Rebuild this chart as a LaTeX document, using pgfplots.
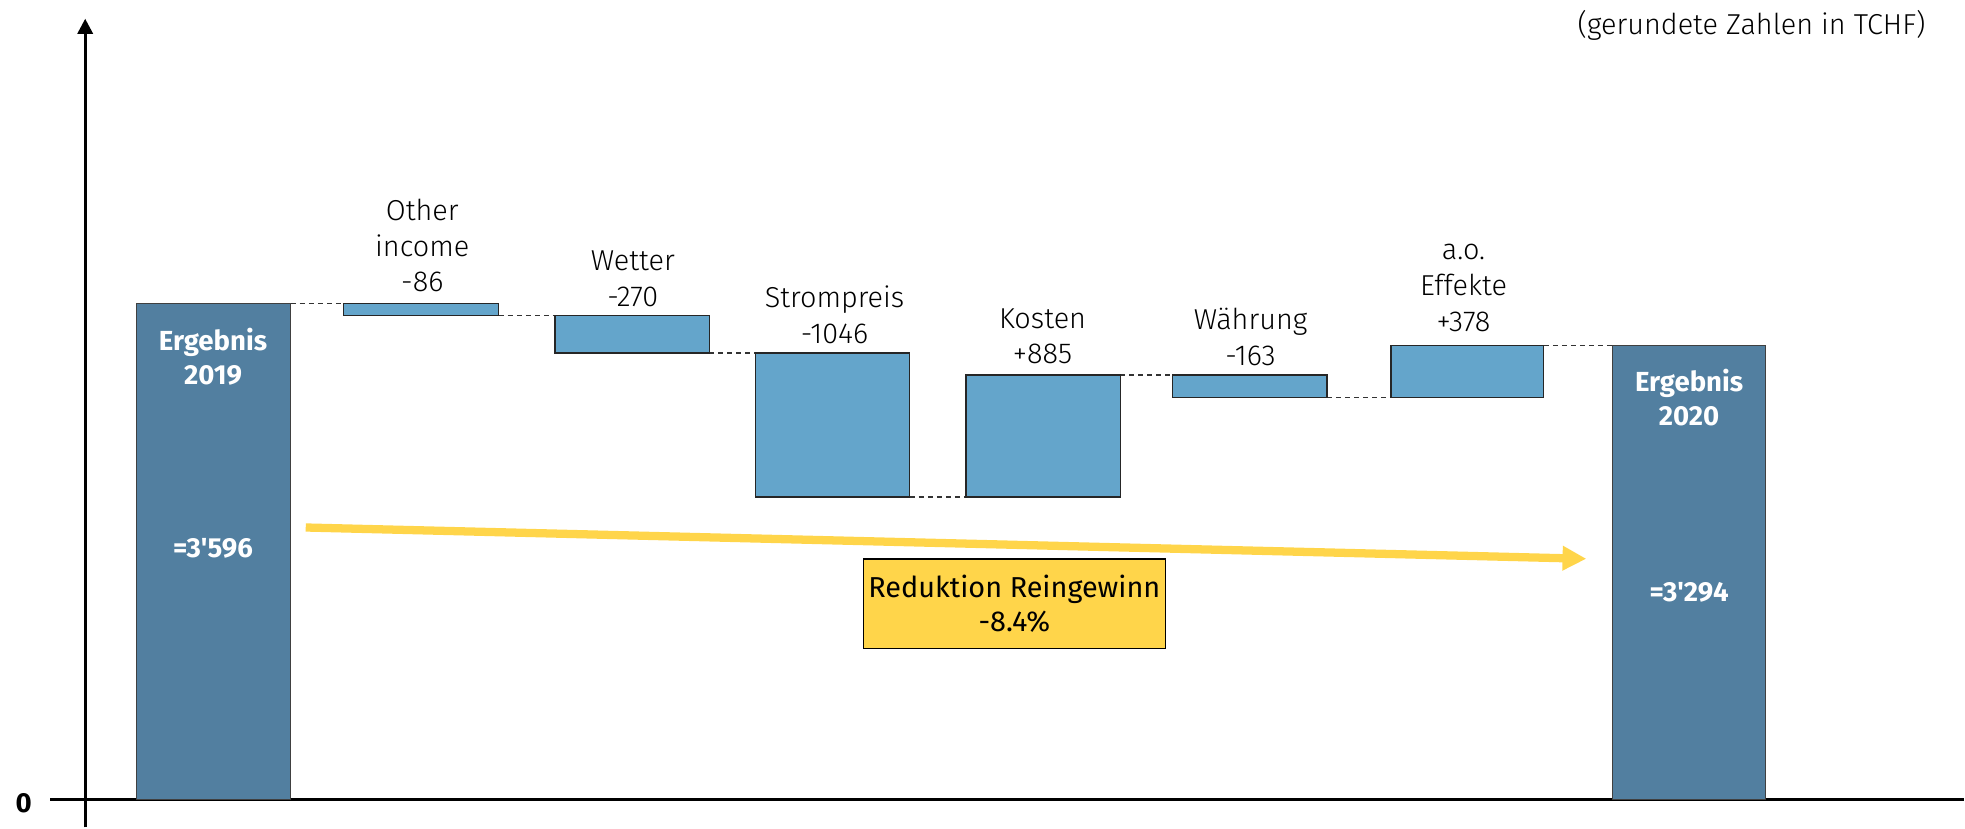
\documentclass[border=0pt]{standalone}
\usepackage{fontspec}
\setmainfont{Fira Sans}[Ligatures=TeXOff]
\newfontfamily\lightfont{Fira Sans Light}[Ligatures=TeXOff]
\usepackage{pgfplots}
\pgfplotsset{compat=1.18}
\usetikzlibrary{arrows.meta}

\definecolor{totalbar}{HTML}{527FA0}
\definecolor{deltabar}{HTML}{64A5CB}
\definecolor{gelb}{HTML}{FFD54A}

\begin{document}
\begin{tikzpicture}
\begin{axis}[
    width=783.5pt, height=330.15pt, scale only axis,
    xmin=0, xmax=1567, ymin=-203, ymax=5801,
    hide axis, clip=false,
]
% frame of the picture
\addplot[draw=none] coordinates {(0,-203) (1567,5801)};

% axes
\addplot[line width=1.2pt] coordinates {(40,0) (1567,0)};
\addplot[line width=1.2pt, -{Triangle[length=6pt,width=6pt]}] coordinates {(68,-203) (68,5665)};
\node[font=\bfseries\fontsize{11}{13}\selectfont] at (axis cs:19,-25) {0};

% connectors
\pgfplotsset{conn/.style={black!80, line width=0.5pt, dash pattern=on 2pt off 1.6pt}}
\addplot[conn] coordinates {(232,3596) (274,3596)};
\addplot[conn] coordinates {(398,3510) (443,3510)};
\addplot[conn] coordinates {(566,3240) (603,3240)};
\addplot[conn] coordinates {(726,2194) (771,2194)};
\addplot[conn] coordinates {(894,3079) (936,3079)};
\addplot[conn] coordinates {(1059,2916) (1110,2916)};
\addplot[conn] coordinates {(1232,3294) (1287,3294)};

% totals
\addplot[fill=totalbar, draw=black!75, line width=0.5pt] coordinates {(109,0) (232,0) (232,3596) (109,3596)} --cycle;
\addplot[fill=totalbar, draw=black!75, line width=0.5pt] coordinates {(1287,0) (1409,0) (1409,3294) (1287,3294)} --cycle;

% changes
\pgfplotsset{delta/.style={fill=deltabar, draw=black!85, line width=0.5pt}}
\addplot[delta] coordinates {(274,3510) (398,3510) (398,3596) (274,3596)} --cycle;
\addplot[delta] coordinates {(443,3240) (566,3240) (566,3510) (443,3510)} --cycle;
\addplot[delta] coordinates {(603,2194) (726,2194) (726,3240) (603,3240)} --cycle;
\addplot[delta] coordinates {(771,2194) (894,2194) (894,3079) (771,3079)} --cycle;
\addplot[delta] coordinates {(936,2916) (1059,2916) (1059,3079) (936,3079)} --cycle;
\addplot[delta] coordinates {(1110,2916) (1232,2916) (1232,3294) (1110,3294)} --cycle;

% labels of the changes
\tikzset{lab/.style={font=\lightfont\fontsize{11.5}{14.25}\selectfont, align=center, inner sep=0pt}}
\node[lab] at (axis cs:337,4019) {Other\\income\\-86};
\node[lab] at (axis cs:505,3778) {Wetter\\-270};
\node[lab] at (axis cs:666,3514) {Strompreis\\-1046};
\node[lab] at (axis cs:832,3360) {Kosten\\+885};
\node[lab] at (axis cs:998,3355) {Währung\\-163};
\node[lab] at (axis cs:1168,3710) {a.o.\\Effekte\\+378};

% labels in the totals
\tikzset{tot/.style={font=\bfseries\fontsize{11}{13.5}\selectfont, text=white, align=center, inner sep=0pt}}
\node[tot] at (axis cs:170,3214) {Ergebnis\\2019};
\node[tot] at (axis cs:170,1819) {=3'596};
\node[tot] at (axis cs:1348,2914) {Ergebnis\\2020};
\node[tot] at (axis cs:1348,1500) {=3'294};

% reduction arrow and box
\addplot[gelb, line width=3.3pt, -{Triangle[length=9.5pt,width=9.3pt]}] coordinates {(244,1973) (1266,1746)};
\node[fill=gelb, draw=black, line width=0.6pt, minimum width=120.5pt, minimum height=35.75pt,
      inner sep=0pt, align=center, font=\fontsize{11.5}{13.5}\selectfont] at (axis cs:809.5,1421)
      {Reduktion Reingewinn\\-8.4\%};

\node[anchor=east, inner sep=0pt, font=\lightfont\fontsize{11.5}{14}\selectfont] at (axis cs:1537,5619)
      {(gerundete Zahlen in TCHF)};
\end{axis}
\end{tikzpicture}
\end{document}
